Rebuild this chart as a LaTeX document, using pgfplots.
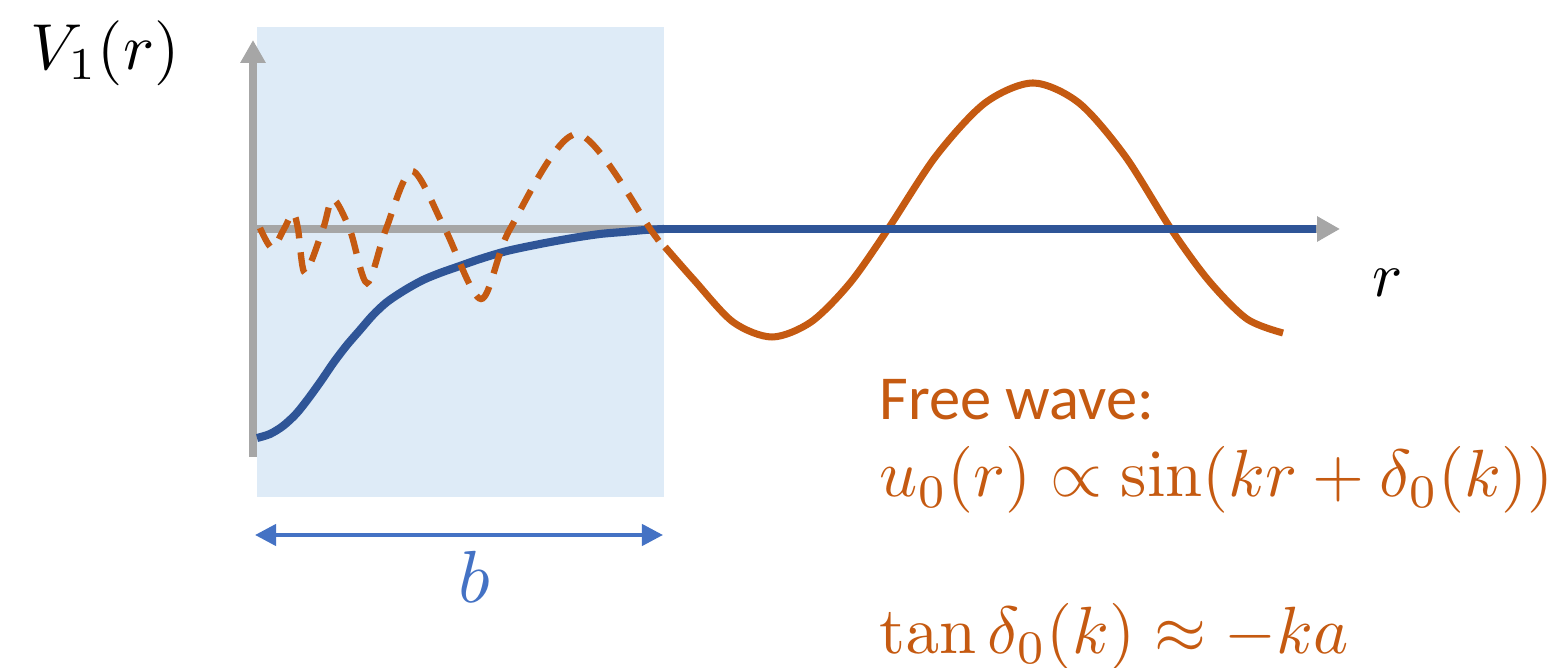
\documentclass[border=0pt]{standalone}
\usepackage[no-math]{fontspec}
\setmainfont{Carlito}
\usepackage{graphicx}
\usepackage{pgfplots}
\pgfplotsset{compat=1.18}
\usetikzlibrary{arrows.meta}
\definecolor{worange}{HTML}{C55A11}
\definecolor{wblue}{HTML}{2F5597}
\definecolor{bblue}{HTML}{4472C4}
\definecolor{agray}{HTML}{A6A6A6}
\definecolor{regionbg}{HTML}{DEEBF7}
\begin{document}
\begin{tikzpicture}
\begin{axis}[at={(0,0)}, anchor=south west, width=15.57cm, height=6.68cm, scale only axis,
  xmin=0, xmax=1557, ymin=0, ymax=668, y dir=reverse, hide axis, clip=false]
% shaded region
\fill[regionbg] (axis cs:257,27) rectangle (axis cs:664,497);
% gray axes
\addplot[agray, line width=2pt, -{Triangle[width=6.8pt,length=6.5pt]}] coordinates {(253,457) (253,40)};
\addplot[agray, line width=2pt, -{Triangle[width=6.8pt,length=6.5pt]}] coordinates {(249,229) (1340,229)};
% free wave (solid)
\addplot[worange, line width=2pt, smooth] coordinates {
(665,247) (694,280) (733,322) (772,337) (811,322) (850,283) (888,229) (936,156)
(985,103) (1033,83) (1079,103) (1125,156) (1171,229) (1209,281) (1247,319) (1283,333)};
% potential (blue)
\addplot[wblue, line width=2.3pt, smooth] coordinates {
(257,438) (270,434) (283,426) (296,414) (308,399) (321,381) (334,362) (347,345)
(360,330) (373,315) (387,302) (405,290) (423,280) (440,273) (457,267) (480,259)
(507,251) (540,244) (573,238) (600,234) (623,232) (645,230) (664,229)};
\addplot[wblue, line width=2.3pt] coordinates {(662,229) (1316,229)};
% wave inside (dashed)
\addplot[worange, line width=1.8pt, smooth, dash pattern=on 6pt off 4pt] coordinates {
(260,228) (272,248) (284,229) (293,213) (298,229) (305,273) (323,229) (333,199)
(350,230) (367,283) (386,229) (412,171) (445,229) (481,299) (510,229) (577,134)
(653,233) (664,250)};
% b arrow
\addplot[bblue, line width=1.2pt, {Triangle[width=6pt,length=6pt]}-{Triangle[width=6pt,length=6pt]}] coordinates {(255,535) (663,535)};
% labels
\node[anchor=base west, inner sep=0pt] at (axis cs:30,70) {\scalebox{1.85}{$V_1(r)$}};
\node[anchor=base west, inner sep=0pt] at (axis cs:1372,297) {\scalebox{1.8}{$r$}};
\node[anchor=base west, inner sep=0pt, text=bblue] at (axis cs:458,602) {\scalebox{2.1}{$b$}};
\node[anchor=base west, inner sep=0pt, text=worange] at (axis cs:879,420) {\fontsize{17.8}{21}\selectfont Free wave:};
\node[anchor=base west, inner sep=0pt, text=worange] at (axis cs:879,497) {\scalebox{1.9}{$u_0(r)\propto\sin(kr+\delta_0(k))$}};
\node[anchor=base west, inner sep=0pt, text=worange] at (axis cs:879,653) {\scalebox{1.9}{$\tan\delta_0(k)\approx-ka$}};
\end{axis}
\pgfresetboundingbox
\path[use as bounding box] (0,0) rectangle (15.57cm,6.68cm);
\end{tikzpicture}
\end{document}
